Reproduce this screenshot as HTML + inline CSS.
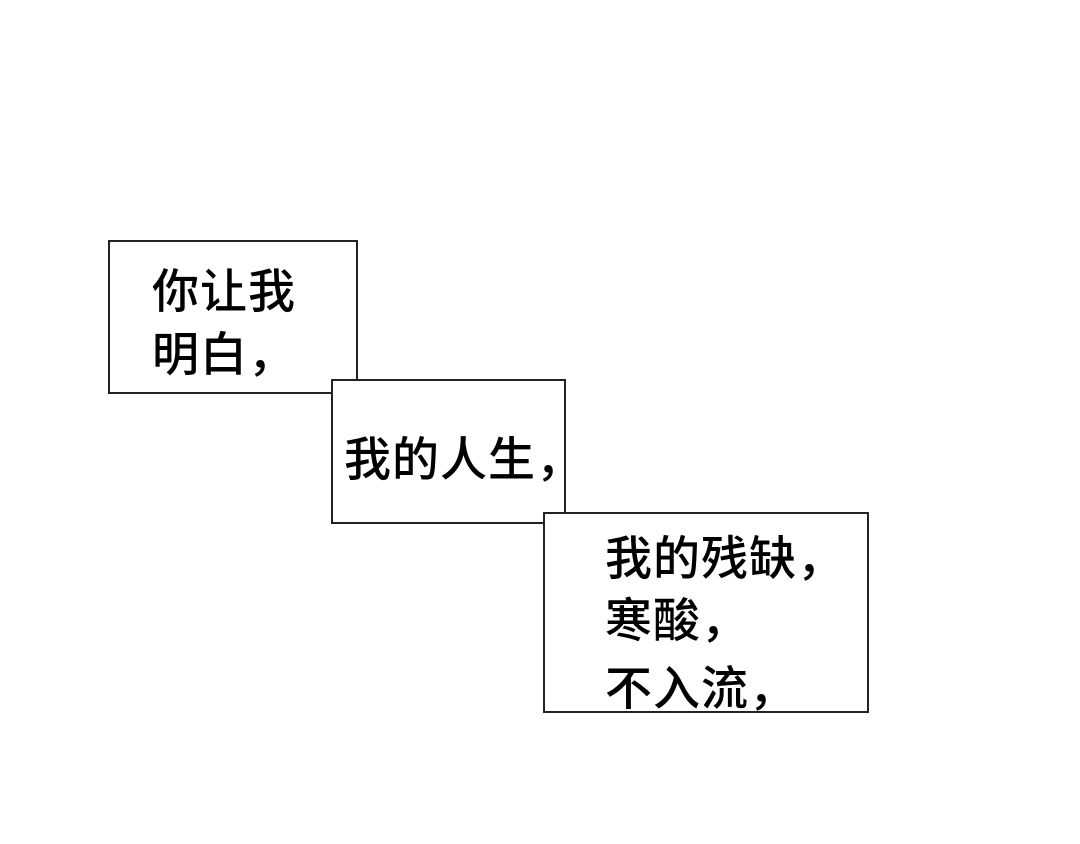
<!DOCTYPE html>
<html><head><meta charset="utf-8"><style>
body{margin:0;background:#fff;width:1080px;height:844px;position:relative;overflow:hidden;font-family:"Liberation Sans","Noto Sans CJK SC",sans-serif;}
.b{position:absolute;background:#fff;border:2px solid #222;box-sizing:border-box;}
.t{position:absolute;font-size:47px;line-height:47px;color:#000;white-space:nowrap;letter-spacing:1px;font-weight:500;}
</style></head><body>
<div class="b" style="left:108px;top:240px;width:250px;height:154px"></div>
<div class="b" style="left:331px;top:379px;width:235px;height:145px"></div>
<div class="b" style="left:543px;top:512px;width:326px;height:201px"></div>
<div class="t" style="left:152px;top:268px">你让我</div>
<div class="t" style="left:152px;top:331px">明白，</div>
<div class="t" style="left:344px;top:436px">我的人生，</div>
<div class="t" style="left:605px;top:535px">我的残缺，</div>
<div class="t" style="left:605px;top:597px">寒酸，</div>
<div class="t" style="left:605px;top:665px">不入流，</div>
</body></html>
